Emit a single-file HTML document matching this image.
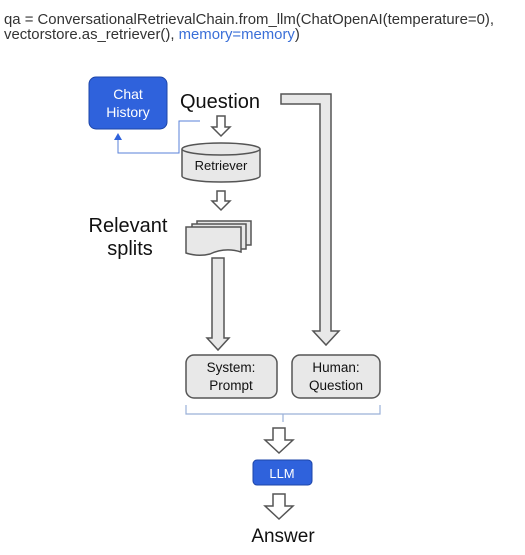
<!DOCTYPE html>
<html><head><style>
body{margin:0;background:#fff;width:525px;height:555px;overflow:hidden;position:relative;font-family:"Liberation Sans",sans-serif}
.code{position:absolute;left:4px;top:13px;font-size:14.9px;line-height:15px;color:#333}
</style></head><body>
<div class="code">qa = ConversationalRetrievalChain.from_llm(ChatOpenAI(temperature=0),<br>vectorstore.as_retriever(), <span style="color:#3a6fd8">memory=memory</span>)</div>
<svg width="525" height="555" style="position:absolute;left:0;top:0" font-family="Liberation Sans, sans-serif">
<g stroke="#555" stroke-width="1.5" fill="#e8e8e8">
<path d="M281 94 H331 V331 H339 L326 345 L313 331 H320 V104 H281 Z"/>
<path d="M217 116 H225 V127 H230 L221 136 L212 127 H217 Z" fill="#fff"/>
<path d="M217 191 H225 V201 H230 L221 210 L212 201 H217 Z" fill="#fff"/>
<path d="M212 258 H224 V338 H229 L218 350 L207 338 H212 Z"/>
<path d="M273 428 H285 V440 H293 L279 453 L265 440 H273 Z" fill="#fff"/>
<path d="M273 494 H285 V506 H293 L279 519 L265 506 H273 Z" fill="#fff"/>
<path d="M182 149 V176 A39 6 0 0 0 260 176 V149"/>
<ellipse cx="221" cy="149" rx="39" ry="6"/>
<path d="M197 221 H251 V245 H197 Z"/>
<path d="M192 224 H246 V249 H192 Z"/>
<path d="M186 227 H241 V252 Q225 247 210 254 Q198 257 186 253 Z"/>
<rect x="186" y="355" width="91" height="43" rx="8"/>
<rect x="292" y="355" width="88" height="43" rx="8"/>
</g>
<rect x="89" y="77" width="78" height="52" rx="7" fill="#2f62dc" stroke="#1d45a8"/>
<text x="128" y="99" font-size="14" fill="#fff" text-anchor="middle">Chat</text>
<text x="128" y="117" font-size="14" fill="#fff" text-anchor="middle">History</text>
<text x="180" y="108" font-size="20" fill="#111">Question</text>
<path d="M200 121 H179 V153 H118 V138" fill="none" stroke="#5a82d8" stroke-width="1"/>
<path d="M114 140 L118 133 L122 140 Z" fill="#2f62dc"/>
<text x="221" y="170" font-size="13" fill="#111" text-anchor="middle">Retriever</text>
<text x="128" y="232" font-size="20" fill="#111" text-anchor="middle">Relevant</text>
<text x="130" y="255" font-size="20" fill="#111" text-anchor="middle">splits</text>
<text x="231" y="372" font-size="13.5" fill="#111" text-anchor="middle">System:</text>
<text x="231" y="390" font-size="13.5" fill="#111" text-anchor="middle">Prompt</text>
<text x="336" y="372" font-size="13.5" fill="#111" text-anchor="middle">Human:</text>
<text x="336" y="390" font-size="13.5" fill="#111" text-anchor="middle">Question</text>
<path d="M186 405 V414 H380 V405 M283 414 V422" fill="none" stroke="#9ab0d8" stroke-width="1.2"/>
<rect x="253" y="460" width="59" height="25" rx="4" fill="#2f62dc" stroke="#1d45a8"/>
<text x="282" y="478" font-size="13" fill="#fff" text-anchor="middle">LLM</text>
<text x="283" y="542" font-size="19" fill="#111" text-anchor="middle">Answer</text>
</svg>
</body></html>
